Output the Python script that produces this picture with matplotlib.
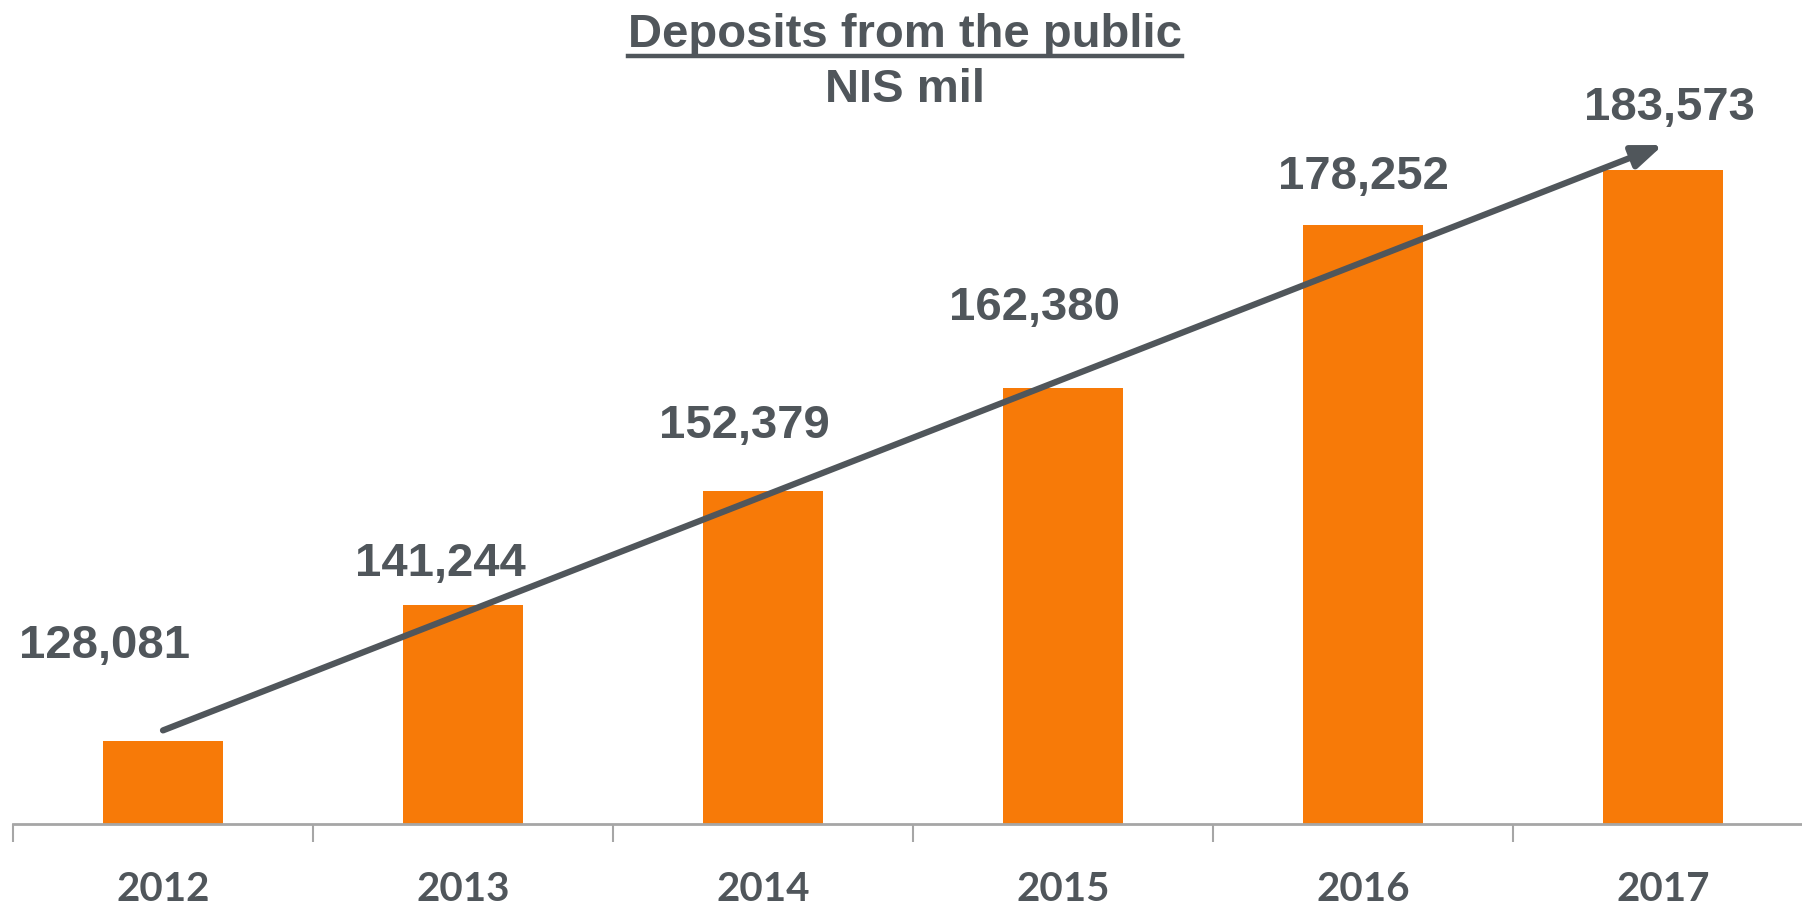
import matplotlib
matplotlib.use("Agg")
import matplotlib.pyplot as plt
from matplotlib.lines import Line2D

# données
annees = ["2012", "2013", "2014", "2015", "2016", "2017"]
depots = [128081, 141244, 152379, 162380, 178252, 183573]

# décalage des étiquettes (pixels) par rapport au haut de chaque barre
decal_x = [-58, -23, -19, -28, 0, 6]
decal_y = [95, 41, 65, 80, 48, 62]

orange = "#F77A08"
gris = "#50565B"

fig = plt.figure(figsize=(18.02, 9.06), dpi=100)
ax = fig.add_axes([13 / 1802, 82 / 906, 1789 / 1802, 823 / 906])

x = range(len(annees))
ax.bar(x, depots, width=0.4, color=orange, zorder=2)

ax.set_ylim(120000, 200000)
ax.set_xlim(-0.5, -0.5 + 1789 / 300)

# étiquettes de valeur
for i, v in enumerate(depots):
    ax.annotate(f"{v:,}", xy=(i, v), xytext=(decal_x[i] * 0.72, decal_y[i] * 0.72),
                textcoords="offset points", ha="center", va="center",
                fontsize=34, fontweight="bold", color=gris, family="Liberation Sans")

# flèche de tendance
ax.annotate("", xy=(5.0, 186000), xytext=(0.0, 129100),
            arrowprops=dict(arrowstyle="-|>,head_length=0.9,head_width=0.35",
                            color=gris, lw=4.5, capstyle="round",
                            shrinkA=0, shrinkB=0, mutation_scale=20),
            zorder=3)

# axes façon Excel
for s in ["top", "right", "left"]:
    ax.spines[s].set_visible(False)
ax.spines["bottom"].set_color("#A6A6A6")
ax.spines["bottom"].set_linewidth(2)
ax.set_yticks([])
ax.set_xticks([i - 0.5 for i in range(len(annees))])
ax.set_xticklabels([])
ax.tick_params(axis="x", length=13, width=1.5, color="#A6A6A6", direction="out")
for i, a in enumerate(annees):
    ax.text(i, -0.08, a, transform=ax.get_xaxis_transform(), ha="center", va="center",
            fontsize=29, fontweight="bold", color=gris, family="Lato")

# titre souligné
titre = fig.text(905 / 1802, 1 - 47 / 906, "Deposits from the public", ha="center", va="baseline",
                 fontsize=34, fontweight="bold", color=gris, family="Liberation Sans")
fig.text(905 / 1802, 1 - 102 / 906, "NIS mil", ha="center", va="baseline",
         fontsize=34, fontweight="bold", color=gris, family="Liberation Sans")

fig.canvas.draw()
bb = titre.get_window_extent().transformed(fig.transFigure.inverted())
y_sous = 1 - 55.5 / 906
fig.add_artist(Line2D([bb.x0, bb.x1], [y_sous, y_sous], color=gris, lw=3.2,
                      transform=fig.transFigure))

fig.savefig("out.png", dpi=100)
